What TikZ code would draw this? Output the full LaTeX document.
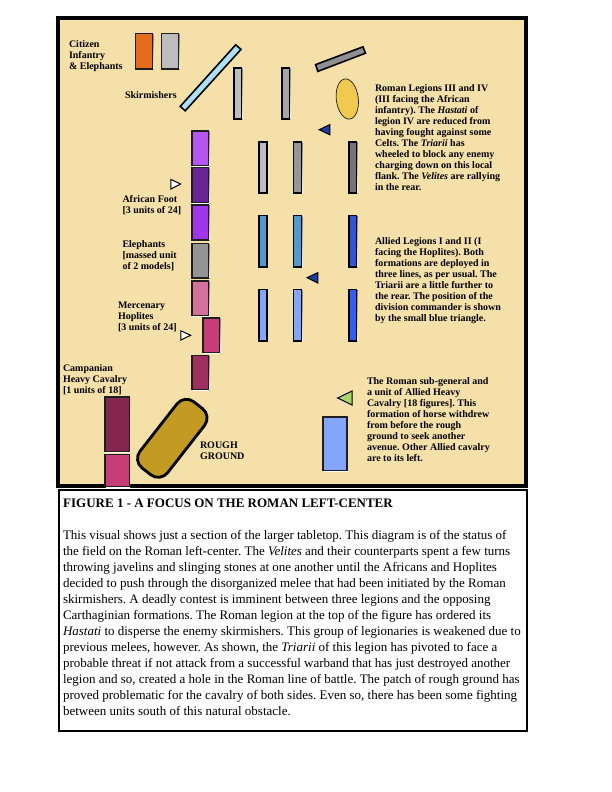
\documentclass[tikz,border=0pt]{standalone}
\usepackage{fontspec}
\setmainfont{Liberation Serif}
\frenchspacing
\definecolor{paper}{HTML}{F6E0A9}
\definecolor{edge}{HTML}{1E1E1E}
\definecolor{shade}{HTML}{C9B78A}
\definecolor{corange}{HTML}{E36B1A}
\definecolor{cgrey}{HTML}{BDBDBD}
\definecolor{cskirm}{HTML}{ADE1FB}
\definecolor{cbar}{HTML}{8F8F8F}
\definecolor{cell}{HTML}{F0C94E}
\definecolor{cgone}{HTML}{BDBDBD}
\definecolor{cgtwo}{HTML}{A6A6A6}
\definecolor{cgthree}{HTML}{969696}
\definecolor{cgfour}{HTML}{757575}
\definecolor{cblueA}{HTML}{4F9BD1}
\definecolor{cblueB}{HTML}{3056D3}
\definecolor{cblueC}{HTML}{84A6FA}
\definecolor{cblueD}{HTML}{2F60F0}
\definecolor{cpurA}{HTML}{B556F3}
\definecolor{cpurB}{HTML}{672494}
\definecolor{cpurC}{HTML}{9F36EA}
\definecolor{celeph}{HTML}{949494}
\definecolor{cpink}{HTML}{D4709C}
\definecolor{cmag}{HTML}{C63D77}
\definecolor{cwine}{HTML}{9E2F5E}
\definecolor{ccav}{HTML}{83274F}
\definecolor{crough}{HTML}{C39B22}
\definecolor{cgreen}{HTML}{A8D56B}
\definecolor{ccmd}{HTML}{1F3F9E}
\tikzset{
  x=1pt,y=-1pt,
  field/.style={draw=black,line width=4pt,fill=paper},
  unit/.style={draw=edge,line width=1.3pt},
  slant/.style={draw=black,line width=1.6pt},
  narrow/.style={draw=black,line width=1.6pt},
  tri/.style={draw=black,line width=1pt},
  lab/.style={inner sep=0pt,outer sep=0pt,anchor=north west,align=left,font=\fontsize{10}{11}\selectfont\bfseries,text=black},
  body/.style={inner sep=0pt,outer sep=0pt,anchor=north west,align=left,font=\fontsize{13}{16}\selectfont,text=black}
}
\newcommand{\unitbox}[5]{\fill[shade] (#1+.9,#3+.9) rectangle (#2+.9,#4+.9);\draw[unit,fill=#5] (#1,#3) rectangle (#2,#4);}
\newcommand{\narrowbox}[5]{\fill[shade] (#1+.9,#3+.9) rectangle (#2+.9,#4+.9);\draw[narrow,fill=#5] (#1,#3) rectangle (#2,#4);}
\begin{document}
\begin{tikzpicture}
\useasboundingbox (0,0) rectangle (612,792);
\fill[white] (0,0) rectangle (612,792);
\draw[field] (58,18) rectangle (526,486);
\draw[black,line width=2pt,fill=white] (58.5,490) rectangle (527,731);

% citizen infantry and elephants
\unitbox{135.8}{152.8}{33.8}{69}{corange}
\unitbox{161.8}{178.8}{33.8}{69}{cgrey}

% skirmishers and rotated bar
\draw[slant,fill=cskirm] (235.7,44.8) -- (241,49.4) -- (185.2,110.8) -- (180.2,106.4) -- cycle;
\draw[slant,fill=cbar] (363,46.8) -- (365.5,53.2) -- (317.8,71.4) -- (315.6,64.6) -- cycle;
\draw[edge,line width=.7pt,fill=cell,rotate around={7:(347.3,99)}] (347.3,99) ellipse [x radius=11,y radius=20.2];

% legions III and IV
\narrowbox{233.8}{241.6}{67.8}{118.8}{cgone}
\narrowbox{281.8}{289.6}{67.8}{118.8}{cgtwo}
\narrowbox{258.8}{266.8}{141.8}{192.8}{cgone}
\narrowbox{293.6}{301.4}{141.8}{192.8}{cgthree}
\narrowbox{348.8}{356.6}{141.8}{192.8}{cgfour}

% allied legions
\narrowbox{258.8}{266.8}{215.5}{266.8}{cblueA}
\narrowbox{293.6}{301.4}{215.5}{266.8}{cblueA}
\narrowbox{348.8}{356.6}{215.5}{266.8}{cblueB}
\narrowbox{258.8}{266.8}{289.5}{340.8}{cblueC}
\narrowbox{293.6}{301.4}{289.5}{340.8}{cblueC}
\narrowbox{348.8}{356.6}{289.5}{340.8}{cblueD}

% Carthaginian line
\unitbox{192}{208.8}{131}{165.6}{cpurA}
\unitbox{192}{208.8}{167.6}{202.6}{cpurB}
\unitbox{192}{208.8}{205}{240}{cpurC}
\unitbox{192}{208.8}{243.6}{278}{celeph}
\unitbox{192}{208.8}{281}{315.2}{cpink}
\unitbox{203}{219.8}{318}{352.6}{cmag}
\unitbox{192}{208.8}{355.2}{389.8}{cwine}
\unitbox{105}{129.2}{397}{451.2}{ccav}
\unitbox{105}{129.2}{454.2}{486.5}{cmag}

% rough ground
\node[draw=black,line width=2.8pt,fill=crough,rounded corners=12pt,minimum width=84pt,minimum height=35pt,inner sep=0pt,rotate=52] (rough) at (172.3,438.3) {};

% command markers
\draw[tri,fill=white] (170.9,179.4) -- (180.6,184) -- (170.9,189) -- cycle;
\draw[tri,fill=white] (180.9,330.8) -- (190.6,335.3) -- (180.9,340) -- cycle;
\draw[tri,fill=ccmd] (319.2,129.7) -- (329.8,124.6) -- (329.8,134.8) -- cycle;
\draw[tri,fill=ccmd] (307,277.7) -- (317.8,272.6) -- (317.8,283) -- cycle;
\draw[tri,fill=cgreen] (337.6,398) -- (352,391) -- (352,405) -- cycle;
\unitbox{323}{347}{417}{470.8}{cblueC}

% labels
\node[lab] (citizen) at (69,41) {Citizen\\Infantry\\\& Elephants};
\node[lab] (skirm) at (125,91.5) {Skirmishers};
\node[lab] (african) at (122.5,195.5) {African Foot\\{[}3 units of 24{]}};
\node[lab] (eleph) at (122.5,241) {Elephants\\{[}massed unit\\of 2 models{]}};
\node[lab] (merc) at (118,302) {Mercenary\\Hoplites\\{[}3 units of 24{]}};
\node[lab] (camp) at (63,365) {Campanian\\Heavy Cavalry\\{[}1 units of 18{]}};
\node[lab] (roughlab) at (200,442) {ROUGH\\GROUND};
\node[lab] (legions) at (375,85) {Roman Legions III and IV\\(III facing the African\\infantry). The \textit{Hastati} of\\legion IV are reduced from\\having fought against some\\Celts. The \textit{Triarii} has\\wheeled to block any enemy\\charging down on this local\\flank. The \textit{Velites} are rallying\\in the rear.};
\node[lab] (allied) at (375,238) {Allied Legions I and II (I\\facing the Hoplites). Both\\formations are deployed in\\three lines, as per usual. The\\Triarii are a little further to\\the rear. The position of the\\division commander is shown\\by the small blue triangle.};
\node[lab] (subgen) at (367,378) {The Roman sub-general and\\a unit of Allied Heavy\\Cavalry {[}18 figures{]}. This\\formation of horse withdrew\\from before the rough\\ground to seek another\\avenue. Other Allied cavalry\\are to its left.};

% caption
\node[inner sep=0pt,anchor=north west,font=\fontsize{13}{16}\selectfont\bfseries,text=black] (title) at (63,498.5) {FIGURE 1 - A FOCUS ON THE ROMAN LEFT-CENTER};
\node[body] (text) at (63,530) {This visual shows just a section of the larger tabletop. This diagram is of the status of\\the field on the Roman left-center. The \textit{Velites} and their counterparts spent a few turns\\throwing javelins and slinging stones at one another until the Africans and Hoplites\\decided to push through the disorganized melee that had been initiated by the Roman\\skirmishers. A deadly contest is imminent between three legions and the opposing\\Carthaginian formations. The Roman legion at the top of the figure has ordered its\\\textit{Hastati} to disperse the enemy skirmishers. This group of legionaries is weakened due to\\previous melees, however. As shown, the \textit{Triarii} of this legion has pivoted to face a\\probable threat if not attack from a successful warband that has just destroyed another\\legion and so, created a hole in the Roman line of battle. The patch of rough ground has\\proved problematic for the cavalry of both sides. Even so, there has been some fighting\\between units south of this natural obstacle.};
\end{tikzpicture}
\end{document}
